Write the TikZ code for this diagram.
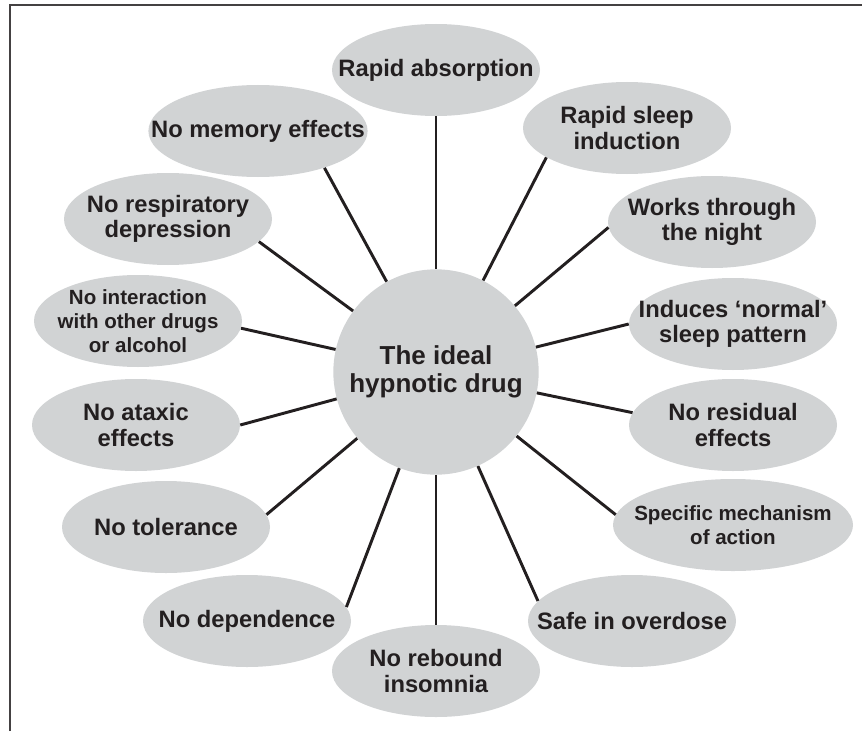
\documentclass[tikz,border=0pt]{standalone}
\usepackage{fontspec}
\setmainfont{Liberation Sans}
\usetikzlibrary{shapes.geometric}
\definecolor{bubblegrey}{RGB}{209, 211, 212}
\definecolor{inkdark}{RGB}{35, 31, 32}

\begin{document}
\begin{tikzpicture}[
  x=0.75pt, y=-0.75pt,
  bubble/.style={ellipse, fill=bubblegrey, minimum width=156pt, minimum height=69pt, inner xsep=-22pt, inner ysep=0pt, align=center, text=inkdark, font=\fontsize{17.8}{19.2}\selectfont\bfseries},
  smalltext/.style={font=\fontsize{15.4}{18}\selectfont\bfseries},
  spoke/.style={draw=inkdark, line width=2.2pt},
]
\useasboundingbox (0,0) rectangle (862,731);
% page frame (top and left only)
\draw[inkdark!85, line width=0.9pt] (10,731) -- (10,5) -- (862,5);

% Hub
\node[circle, fill=bubblegrey, minimum size=154pt, inner sep=0pt, align=center, text=inkdark, font=\fontsize{19.5}{21}\selectfont\bfseries] (hub) at (436,372) {The ideal\\hypnotic drug};

% Right half
\node[bubble] (absorb) at (436,70) {Rapid absorption};
\node[bubble] (induct) at (627,128) {Rapid sleep\\induction};
\node[bubble] (night) at (712,222) {Works through\\the night};
\node[bubble] (pattern) at (733,324) {Induces ‘normal’\\sleep pattern};
\node[bubble] (residual) at (733,425) {No residual\\effects};
\node[bubble, smalltext, minimum width=180pt] (mechanism) at (733,525) {Specific mechanism\\of action};
\node[bubble] (overdose) at (632,621) {Safe in overdose};

% Left half
\node[bubble] (rebound) at (436,671) {No rebound\\insomnia};
\node[bubble] (depend) at (247,621) {No dependence};
\node[bubble] (tolerance) at (166,527) {No tolerance};
\node[bubble] (ataxic) at (136,425) {No ataxic\\effects};
\node[bubble, smalltext] (interact) at (138,321) {No interaction\\with other drugs\\or alcohol};
\node[bubble] (resp) at (168,219) {No respiratory\\depression};
\node[bubble] (memory) at (258,131) {No memory effects};

% Spokes
\draw[spoke] (hub) -- (absorb);
\draw[spoke] (hub) -- (induct.200);
\draw[spoke] (hub) -- (night.183);
\draw[spoke] (hub) -- (pattern.west);
\draw[spoke] (hub) -- (residual.173);
\draw[spoke] (hub) -- (mechanism.175);
\draw[spoke] (hub) -- (overdose.168);
\draw[spoke] (hub) -- (rebound);
\draw[spoke] (hub) -- (depend.8);
\draw[spoke] (hub) -- (tolerance.7);
\draw[spoke] (hub) -- (ataxic.east);
\draw[spoke] (hub) -- (interact.356);
\draw[spoke] (hub) -- (resp.346);
\draw[spoke] (hub) -- (memory.331);
\end{tikzpicture}
\end{document}
